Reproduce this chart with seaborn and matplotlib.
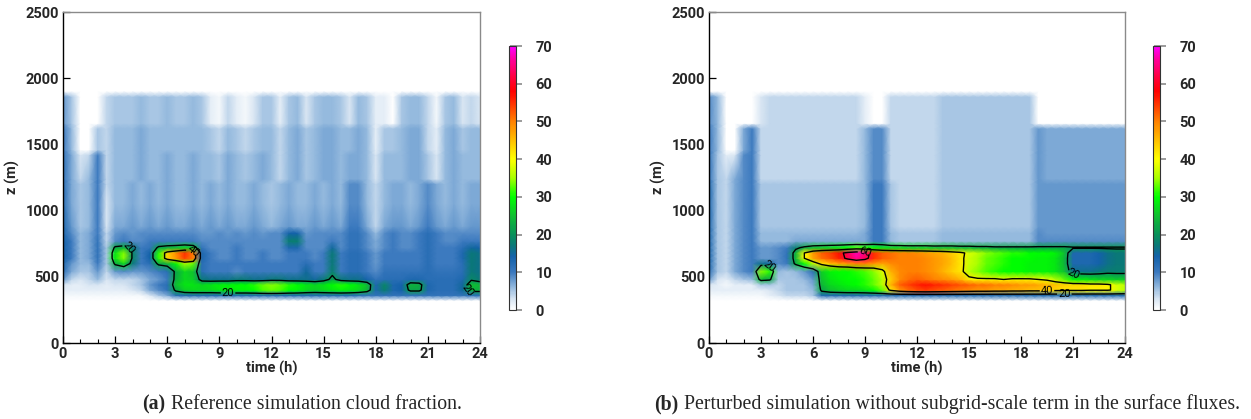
import numpy as np
import matplotlib
matplotlib.use("Agg")
import matplotlib.pyplot as plt
from matplotlib.colors import LinearSegmentedColormap, Normalize
from matplotlib.ticker import MultipleLocator
import seaborn as sns

# ---------------- data ----------------
time_h = [0, 0.5, 1, 1.5, 2, 2.5, 3, 3.5, 4, 4.5, 5, 5.5, 6, 6.5, 7, 7.5,
          8, 8.5, 9, 9.5, 10, 10.5, 11, 11.5, 12, 12.5, 13, 13.5, 14, 14.5, 15, 15.5,
          16, 16.5, 17, 17.5, 18, 18.5, 19, 19.5, 20, 20.5, 21, 21.5, 22, 22.5, 23, 23.5,
          24]
height_m = [320, 360, 400, 440, 480, 540, 600, 640, 680, 720, 770, 830, 880,
            1050, 1200, 1240, 1420, 1460, 1620, 1660, 1860, 1900]

# cloud fraction (%), one row per height (bottom to top), one value per time
cf_reference = [
    [0,0,0,0,0,0,0,0, 0,0,0,0,0,0,0,0, 0,0,0,0,0,0,0,0, 0,0,0,0,0,0,0,0, 0,0,0,0,0,0,0,0, 0,0,0,0,0,0,0,0, 0],
    [1,1,1,1,1,1,1,1, 1,1,3,5,7,12,13,13, 13,13,13,13,13,13,13,13, 13,13,13,13,13,13,13,13, 13,13,12,11,11,11,11,11, 11,11,11,11,11,11,11,12, 12],
    [2,2,2,2,2,2,2,2, 3,4,7,9,11,22,26,27, 27,27,28,28,29,29,30,32, 33,32,30,29,27,26,27,28, 29,28,27,24,13,18,13,14, 22,22,13,12,12,12,15,23, 23],
    [3,2,2,3,3,2,3,3, 4,5,8,10,12,25,28,28, 27,28,29,29,30,30,31,33, 34,33,31,30,28,27,28,30, 31,30,28,25,13,19,13,14, 24,23,13,12,12,12,15,25, 24],
    [8,4,3,4,6,3,4,4, 4,5,7,8,10,23,27,26, 17,16,16,16,17,17,16,16, 17,17,16,16,16,15,17,22, 17,16,16,14,11,12,12,12, 13,13,12,12,12,12,13,19, 17],
    [12,7,5,5,8,4,8,9, 8,8,9,10,12,22,27,25, 12,10,10,10,9,10,10,10, 10,10,10,10,15,10,10,18, 10,12,12,10,9,11,11,11, 11,11,12,11,11,11,12,17, 16],
    [13,8,6,6,10,5,22,27, 17,10,12,22,24,30,35,33, 12,10,10,10,10,10,10,10, 10,10,10,10,12,10,10,17, 10,12,12,10,8,10,10,10, 10,10,12,10,10,10,12,17, 16],
    [14,10,6,7,11,5,28,34, 19,10,14,31,44,48,54,50, 13,10,9,9,10,9,9,10, 9,9,10,10,10,9,10,17, 10,12,12,10,8,10,10,10, 10,10,12,10,10,10,13,17, 16],
    [14,10,6,7,11,5,28,34, 19,10,14,31,44,49,55,50, 13,10,9,9,10,9,9,10, 9,9,10,10,10,9,10,17, 10,12,12,10,8,10,10,10, 10,10,12,10,10,10,13,17, 16],
    [14,10,6,7,11,5,22,24, 17,10,11,22,24,25,27,25, 11,9,9,9,10,9,9,9, 9,9,13,13,9,9,9,15, 9,11,11,9,7,9,10,9, 9,10,12,10,10,10,12,15, 14],
    [14,10,6,7,11,4,9,10, 9,9,10,10,10,10,10,10, 9,9,9,9,9,9,9,9, 9,9,18,18,9,9,9,10, 9,11,11,9,7,9,10,9, 9,10,12,10,9,9,10,10, 10],
    [13,9,6,7,10,4,8,9, 8,9,9,9,9,9,9,9, 8,8,9,8,9,8,9,8, 9,9,14,14,8,9,9,9, 9,11,11,9,6,9,10,9, 9,10,12,10,9,9,9,9, 9],
    [13,8,5,6,10,3,7,7, 8,7,8,7,8,7,7,8, 7,8,7,8,7,7,8,7, 6,7,8,7,7,8,7,8, 7,10,10,7,4,7,8,8, 7,8,10,8,7,8,7,8, 8],
    [12,7,5,6,10,3,6,6, 7,6,7,6,7,6,6,7, 6,7,6,7,6,6,7,6, 5,6,7,6,6,7,6,7, 6,9,9,6,4,6,7,7, 6,7,9,7,6,7,6,7, 7],
    [12,7,5,6,10,4,6,6, 7,6,7,6,7,6,6,7, 6,7,6,7,6,6,7,6, 5,6,7,6,6,7,6,7, 6,9,9,6,4,6,7,7, 6,7,9,7,6,7,6,7, 7],
    [11,7,4,6,10,4,6,6, 6,7,6,6,7,6,6,7, 6,6,5,7,6,5,6,7, 6,4,6,7,5,6,7,7, 6,7,7,6,3,6,6,6, 7,7,5,3,6,7,6,6, 6],
    [11,7,3,4,10,4,6,6, 6,7,6,6,7,6,6,7, 6,6,5,7,6,5,6,7, 6,4,6,7,5,6,7,7, 6,7,7,6,3,6,6,6, 7,7,5,3,6,7,6,6, 6],
    [10,6,0,0,5,4,6,6, 6,7,6,6,6,6,6,6, 6,5,4,6,5,4,5,6, 6,4,6,7,5,6,7,7, 6,6,7,6,2,5,5,6, 7,7,4,2,6,7,5,6, 6],
    [10,6,0,0,5,4,6,6, 6,7,6,6,6,6,6,6, 6,5,4,6,5,4,5,6, 6,4,6,7,5,6,7,7, 6,6,7,6,2,5,5,6, 7,7,4,2,6,7,5,6, 6],
    [8,5,0,0,0,4,5,5, 5,6,5,5,6,5,5,6, 5,2,1,4,2,1,3,5, 5,2,5,6,3,5,6,6, 5,3,6,5,2,2,0,5, 6,6,4,1,5,6,3,4, 3],
    [8,5,0,0,0,4,5,5, 5,6,5,5,6,5,5,6, 5,2,1,4,2,1,3,5, 5,2,5,6,3,5,6,6, 5,3,6,5,2,2,0,5, 6,6,4,1,5,6,3,4, 3],
    [0,0,0,0,0,0,0,0, 0,0,0,0,0,0,0,0, 0,0,0,0,0,0,0,0, 0,0,0,0,0,0,0,0, 0,0,0,0,0,0,0,0, 0,0,0,0,0,0,0,0, 0],
]

cf_perturbed = [
    [0,0,0,0,0,0,0,0, 0,0,0,0,0,0,0,0, 0,0,0,0,0,0,0,0, 0,0,0,0,0,0,0,0, 0,0,0,0,0,0,0,0, 0,0,0,0,0,0,0,0, 0],
    [1,1,1,1,1,1,1,2, 3,4,4,4,5,13,13,13, 13,13,13,13,13,13,13,13, 13,13,13,13,13,13,13,13, 13,13,13,13,13,13,13,13, 13,13,13,13,13,13,13,13, 13],
    [2,2,2,2,2,2,2,3, 4,5,5,5,6,22,25,26, 27,27,28,30,33,42,48,51, 53,54,53,52,51,50,49,48, 48,47,47,46,46,45,45,44, 43,42,42,42,41,41,41,38, 36],
    [3,2,1,2,2,2,5,5, 4,5,5,5,7,24,27,28, 29,30,31,33,36,46,52,54, 56,57,56,55,54,53,52,51, 51,50,50,49,48,48,47,46, 45,44,43,43,42,42,41,38, 36],
    [8,3,2,4,5,6,24,22, 5,5,5,6,8,25,28,29, 30,30,31,33,36,44,49,51, 52,51,50,49,48,46,42,41, 41,41,40,41,41,41,40,39, 36,33,30,29,28,27,27,26, 26],
    [12,5,4,7,9,10,34,31, 6,5,6,8,12,26,29,30, 30,31,32,34,38,46,49,50, 50,49,48,46,44,42,36,34, 32,31,30,30,30,29,29,29, 28,25,16,16,16,17,18,18, 18],
    [13,5,4,7,9,10,16,15, 9,10,22,30,36,42,45,47, 48,50,50,48,47,49,50,50, 50,49,48,47,45,42,37,35, 33,32,31,30,30,29,29,29, 28,24,13,13,13,14,16,17, 17],
    [13,5,4,7,9,10,8,8, 9,11,24,40,47,51,53,56, 62,66,63,55,52,51,50,50, 50,49,48,47,45,42,37,35, 33,32,31,30,30,30,29,29, 28,24,13,13,13,14,16,17, 17],
    [13,5,4,7,9,10,8,8, 9,11,24,40,48,52,54,57, 63,67,65,55,52,51,50,50, 49,48,47,46,44,42,38,36, 34,33,32,31,31,30,30,30, 29,25,13,13,13,14,16,17, 17],
    [13,5,4,7,9,10,8,8, 9,10,18,22,25,26,27,28, 30,32,31,30,28,27,27,26, 26,26,25,25,25,24,24,23, 23,22,22,22,22,22,22,22, 22,22,21,21,21,21,21,21, 21],
    [13,5,4,7,9,10,6,6, 6,6,7,7,7,7,7,7, 7,7,7,10,10,6,5,5, 5,5,5,6,6,6,6,6, 6,6,6,6,6,6,9,9, 9,9,9,9,9,9,9,9, 9],
    [13,5,4,7,9,10,6,6, 6,6,6,6,6,6,6,6, 6,6,7,10,10,6,5,5, 5,5,5,6,6,6,6,6, 6,6,6,6,6,6,9,8, 8,8,8,8,8,8,8,8, 8],
    [13,5,4,7,9,10,5,5, 5,5,5,5,5,5,5,5, 5,5,6,10,10,5,4,4, 4,4,4,5,5,5,5,5, 5,5,5,5,5,5,8,8, 8,8,8,8,8,8,8,8, 8],
    [13,5,4,7,9,10,5,5, 5,5,5,5,5,5,5,5, 5,5,6,10,10,5,4,4, 4,4,4,5,5,5,5,5, 5,5,5,5,5,5,8,8, 8,8,8,8,8,8,8,8, 8],
    [13,5,4,7,9,10,5,5, 5,5,5,5,5,5,5,5, 5,5,6,10,10,5,4,4, 4,4,4,5,5,5,5,5, 5,5,5,5,5,5,8,8, 8,8,8,8,8,8,8,8, 8],
    [11,5,4,7,9,10,4,4, 4,4,4,4,4,4,4,4, 4,4,6,9,9,4,4,4, 4,4,4,5,5,5,5,5, 5,5,5,5,5,5,8,7, 7,7,7,7,7,7,7,7, 7],
    [11,5,2,3,9,10,4,4, 4,4,4,4,4,4,4,4, 4,4,6,9,9,4,4,4, 4,4,4,5,5,5,5,5, 5,5,5,5,5,5,8,7, 7,7,7,7,7,7,7,7, 7],
    [10,6,0,0,7,10,4,4, 4,4,4,4,4,4,4,4, 4,4,6,9,9,4,4,4, 4,4,4,5,5,5,5,5, 5,5,5,5,5,5,8,7, 7,7,7,7,7,7,7,7, 7],
    [10,6,0,0,7,10,4,4, 4,4,4,4,4,4,4,4, 4,4,6,9,9,4,4,4, 4,4,4,5,5,5,5,5, 5,5,5,5,5,5,8,7, 7,7,7,7,7,7,7,7, 7],
    [9,6,0,0,0,0,3,4, 4,4,4,4,4,4,4,4, 4,4,2,0,0,4,4,4, 4,4,4,5,5,5,5,5, 5,5,5,5,5,5,0,0, 0,0,0,0,0,0,0,0, 0],
    [9,6,0,0,0,0,3,4, 4,4,4,4,4,4,4,4, 4,4,2,0,0,4,4,4, 4,4,4,5,5,5,5,5, 5,5,5,5,5,5,0,0, 0,0,0,0,0,0,0,0, 0],
    [0,0,0,0,0,0,0,0, 0,0,0,0,0,0,0,0, 0,0,0,0,0,0,0,0, 0,0,0,0,0,0,0,0, 0,0,0,0,0,0,0,0, 0,0,0,0,0,0,0,0, 0],
]

contour_levels = [20, 40, 60]
colorbar_ticks = [0, 10, 20, 30, 40, 50, 60, 70]
x_ticks = [0, 3, 6, 9, 12, 15, 18, 21, 24]
y_ticks = [0, 500, 1000, 1500, 2000, 2500]
captions = [("(a)", "Reference simulation cloud fraction."),
            ("(b)", "Perturbed simulation without subgrid-scale term in the surface fluxes.")]

# ---------------- style ----------------
sns.set_style("white")
plt.rcParams["font.family"] = ["Roboto", "DejaVu Sans"]

cmap_nodes = [(0, "#ffffff"), (3, "#d6e4f2"), (6, "#8fb6dc"), (10, "#3a78be"),
              (14, "#1462aa"), (17, "#0a7878"), (20, "#08905a"), (25, "#10c030"),
              (30, "#00ff00"), (35, "#a8ff00"), (40, "#ffff00"), (45, "#ffc000"),
              (50, "#ff8000"), (55, "#ff3000"), (58, "#ff0000"), (62, "#ff0040"),
              (66, "#ff0090"), (70, "#ff00ff")]
cmap = LinearSegmentedColormap.from_list("cf", [(v / 70.0, c) for v, c in cmap_nodes])
norm = Normalize(vmin=0, vmax=70)

W, H = 1251, 419
fig = plt.figure(figsize=(W / 100, H / 100), dpi=100)
fig.patch.set_facecolor("white")

panels = [
    (cf_reference, [63, 480], [509, 516], 165, 171),
    (cf_perturbed, [709, 1125], [1153, 1160], 678, 684),
]

T, Z = np.meshgrid(np.array(time_h), np.array(height_m))

for k, (data, (x0, x1), (c0, c1), cap_x_bold, cap_x_txt) in enumerate(panels):
    ax = fig.add_axes([x0 / W, (H - 343) / H, (x1 - x0) / W, 331 / H])
    cax = fig.add_axes([c0 / W, (H - 310) / H, (c1 - c0) / W, 264 / H])
    C = np.array(data, dtype=float)
    m = ax.pcolormesh(T, Z, C, shading="gouraud", cmap=cmap, norm=norm)
    cs = ax.contour(T, Z, C, levels=contour_levels, colors="black", linewidths=1.0)
    ax.clabel(cs, fmt="%d", fontsize=8, inline=True, inline_spacing=1)

    ax.set_xlim(0, 24)
    ax.set_ylim(0, 2500)
    ax.set_xticks(x_ticks)
    ax.set_yticks(y_ticks)
    ax.xaxis.set_minor_locator(MultipleLocator(1))
    ax.tick_params(axis="both", which="major", direction="in", length=5, width=0.9,
                   bottom=True, left=True, labelsize=10.5, pad=3, color="black")
    ax.tick_params(axis="x", which="minor", direction="in", length=3, width=0.8,
                   bottom=True, color="black")
    for lab in ax.get_xticklabels() + ax.get_yticklabels():
        lab.set_fontweight("bold")
    for s in ["left", "bottom"]:
        ax.spines[s].set_color("black")
        ax.spines[s].set_linewidth(1.0)
    for s in ["top", "right"]:
        ax.spines[s].set_color("#8a8a8a")
        ax.spines[s].set_linewidth(1.0)
    ax.set_xlabel("time (h)", fontsize=10.5, fontweight="bold", labelpad=0)
    ax.set_ylabel("z (m)", fontsize=10.5, fontweight="bold", labelpad=4)

    cb = fig.colorbar(m, cax=cax, ticks=colorbar_ticks)
    cb.outline.set_linewidth(0.8)
    cb.outline.set_edgecolor("#333333")
    cax.tick_params(direction="inout", length=8, width=1.2, color="#8a8a8a",
                    labelsize=10.5, pad=10, right=True, left=False)
    for lab in cax.get_yticklabels():
        lab.set_fontweight("bold")

    bold, rest = captions[k]
    yc = (H - 404) / H
    fig.text(cap_x_bold / W, yc, bold, ha="right", va="center", fontsize=14.3,
             fontweight="bold", family="Liberation Serif")
    fig.text(cap_x_txt / W, yc, rest, ha="left", va="center", fontsize=14.3,
             family="Liberation Serif")

fig.savefig("out.png", dpi=100, facecolor="white")
